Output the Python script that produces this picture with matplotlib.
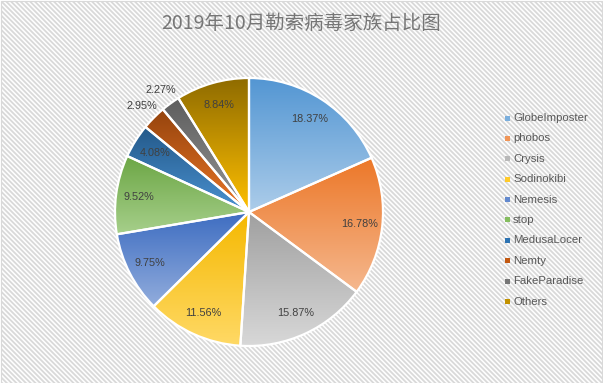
import colorsys
import numpy as np
import matplotlib
matplotlib.use("Agg")
import matplotlib.pyplot as plt
from matplotlib.colors import to_rgb
from matplotlib.patches import Rectangle

plt.rcParams['hatch.color'] = '#e0e0e0'
plt.rcParams['hatch.linewidth'] = 1.3

# data
families = ['GlobeImposter', 'phobos', 'Crysis', 'Sodinokibi', 'Nemesis',
            'stop', 'MedusaLocer', 'Nemty', 'FakeParadise', 'Others']
shares = [18.37, 16.78, 15.87, 11.56, 9.75, 9.52, 4.08, 2.95, 2.27, 8.84]
base_colors = ['#5B9BD5', '#ED7D31', '#A5A5A5', '#FFC000', '#4472C4',
               '#70AD47', '#255E91', '#9E480E', '#636363', '#997300']
title = '2019年10月勒索病毒家族占比图'


def shift_light(color, dl):
    r, g, b = to_rgb(color)
    h, l, s = colorsys.rgb_to_hls(r, g, b)
    l = min(max(l + dl, 0), 0.95)
    return np.array(colorsys.hls_to_rgb(h, l, s))


W, H = 603, 383
fig = plt.figure(figsize=(W / 100, H / 100), dpi=100)
fig.patch.set_facecolor('white')
bg = Rectangle((0.001, 0.001), 0.998, 0.997, transform=fig.transFigure,
               facecolor='white', edgecolor='#d9d9d9', hatch='\\' * 7, linewidth=0.8,
               zorder=-10)
fig.patches.append(bg)

cx, cy, r = 249, 212, 134
ax = fig.add_axes([(cx - r) / W, (H - cy - r) / H, 2 * r / W, 2 * r / H])
ax.set_facecolor('none')

wedges, _ = ax.pie(shares, startangle=90, counterclock=False, colors=base_colors,
                   wedgeprops=dict(edgecolor='white', linewidth=1.6))

# vertical gradient inside every wedge, dark on top, light at bottom
for w, c in zip(wedges, base_colors):
    ext = w.get_path().get_extents()
    top = shift_light(c, -0.02)
    bot = shift_light(c, 0.2)
    t = np.linspace(0, 1, 200)[:, None, None]
    grad = top * (1 - t) + bot * t
    grad = np.repeat(grad, 2, axis=1)
    im = ax.imshow(grad, extent=(ext.x0, ext.x1, ext.y0, ext.y1), origin='upper',
                   interpolation='bilinear', zorder=1)
    im.set_clip_path(w)
    w.set_facecolor('none')
    w.set_zorder(2)

# percentage labels
for w, v in zip(wedges, shares):
    ang = np.deg2rad((w.theta1 + w.theta2) / 2)
    d = 1.12 if v < 3.5 else 0.83
    ax.text(d * np.cos(ang), d * np.sin(ang), f'{v:.2f}%', ha='center', va='center',
            fontsize=7.8, color='#404040', family='Liberation Sans', zorder=3)

ax.set_xlim(-1, 1)
ax.set_ylim(-1, 1)
ax.set_aspect('equal')
ax.axis('off')

# legend
leg_colors = [shift_light(c, 0.08) for c in base_colors]
for i, (name, c) in enumerate(zip(families, leg_colors)):
    y = 1 - (118 + i * 20.4) / H
    fig.patches.append(Rectangle((505 / W, y - 2.5 / H), 5 / W, 5 / H, transform=fig.transFigure,
                                 facecolor=c, edgecolor='none', zorder=2))
    fig.text(513 / W, y, name, ha='left', va='center', fontsize=8.2,
             color='#595959', family='Liberation Sans')

fig.text(301 / W, 1 - 23 / H, title, ha='center', va='center', fontsize=14,
         color='#767676', family=['Noto Sans CJK SC', 'DejaVu Sans'])

fig.savefig('out.png', dpi=100)
